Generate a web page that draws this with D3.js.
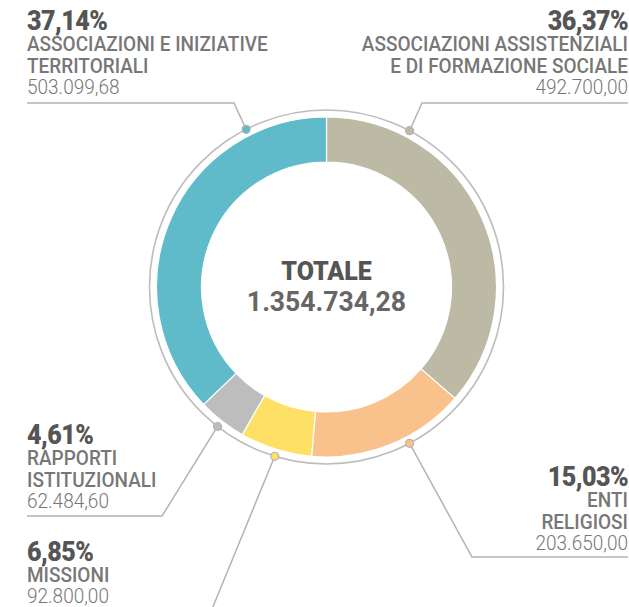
<!DOCTYPE html>
<html>
<head>
<meta charset="utf-8">
<script src="https://cdn.jsdelivr.net/npm/d3@7"></script>
<style>
  body { margin: 0; background: #fff; }
  svg text { font-family: Roboto, "Liberation Sans", sans-serif; }
</style>
</head>
<body>
<div id="chart"></div>
<script>
// data
var categories = ["ASSOCIAZIONI ASSISTENZIALI|E DI FORMAZIONE SOCIALE", "ENTI|RELIGIOSI", "MISSIONI", "RAPPORTI|ISTITUZIONALI", "ASSOCIAZIONI E INIZIATIVE|TERRITORIALI"];
var values = [492700.00, 203650.00, 92800.00, 62484.60, 503099.68];
var percentLabels = ["36,37%", "15,03%", "6,85%", "4,61%", "37,14%"];
var valueLabels = ["492.700,00", "203.650,00", "92.800,00", "62.484,60", "503.099,68"];
var totalLabel = "1.354.734,28";
var colors = ["#bcbaa5", "#f9c18b", "#ffe066", "#bdbdbd", "#5fbbc9"];

// where each label sits (layout only)
var anchorAngle = [28, 152, 197, 218, 333];           // degrees, clockwise from top
var labelPos = [
  {x: 628, y: 30, align: "end", elbow: [422, 103], rule: 628},
  {x: 628, y: 486, align: "end", elbow: [472, 557], rule: 628},
  {x: 27, y: 561, align: "start", elbow: [210, 614], rule: 27},
  {x: 27, y: 444, align: "start", elbow: [162, 516], rule: 27},
  {x: 27, y: 30, align: "start", elbow: [234, 103], rule: 27}
];

var width = 629, height = 607;
var cx = 326.5, cy = 287;
var rOuter = 170, rInner = 125, rRing = 177;

var svg = d3.select("#chart")
  .append("svg")
    .attr("width", width)
    .attr("height", height);

var g = svg.append("g")
    .attr("transform", "translate(" + cx + "," + cy + ")");

var pie = d3.pie().sort(null).value(function(d) { return d; });
var arc = d3.arc().innerRadius(rInner).outerRadius(rOuter);

g.selectAll("path.slice")
  .data(pie(values))
  .enter()
  .append("path")
    .attr("class", "slice")
    .attr("d", arc)
    .attr("fill", function(d, i) { return colors[i]; })
    .attr("stroke", "#fff")
    .attr("stroke-width", 1.2);

// outer thin ring
g.append("circle")
  .attr("r", rRing)
  .attr("fill", "none")
  .attr("stroke", "#bdbdbd")
  .attr("stroke-width", 1.6);

// leader lines
function anchorPoint(i) {
  var a = anchorAngle[i] * Math.PI / 180;
  return [cx + rRing * Math.sin(a), cy - rRing * Math.cos(a)];
}

var line = d3.line();
svg.selectAll("path.leader")
  .data(labelPos)
  .enter()
  .append("path")
    .attr("class", "leader")
    .attr("d", function(d, i) {
      var p = anchorPoint(i);
      return line([p, d.elbow, [d.rule, d.elbow[1]]]);
    })
    .attr("fill", "none")
    .attr("stroke", "#b3b3b3")
    .attr("stroke-width", 1.5);

svg.selectAll("circle.dot")
  .data(values)
  .enter()
  .append("circle")
    .attr("class", "dot")
    .attr("cx", function(d, i) { return anchorPoint(i)[0]; })
    .attr("cy", function(d, i) { return anchorPoint(i)[1]; })
    .attr("r", 4)
    .attr("fill", function(d, i) { return colors[i]; })
    .attr("stroke", "#b3b3b3")
    .attr("stroke-width", 1.2);

// condensed text: draw a bit taller and squeeze it sideways
function squeezed(sel, x, y, size, sx) {
  return sel.append("text")
    .attr("transform", "translate(" + x + "," + y + ") scale(" + sx + ",1)")
    .attr("font-size", size);
}

var labels = svg.selectAll("g.label")
  .data(labelPos)
  .enter()
  .append("g")
    .attr("class", "label")
    .attr("text-anchor", function(d) { return d.align; });

labels.each(function(d, i) {
  var el = d3.select(this);
  var lines = categories[i].split("|");
  squeezed(el, d.x, d.y, 27, 0.93)
    .attr("font-weight", 900)
    .attr("letter-spacing", -0.6)
    .attr("fill", "#555")
    .text(percentLabels[i]);
  lines.forEach(function(t, j) {
    squeezed(el, d.x, d.y + 21 + j * 22, 20, 0.95)
      .attr("font-weight", 500)
      .attr("fill", "#777")
      .text(t);
  });
  squeezed(el, d.x, d.y + 21 + lines.length * 22 - 1, 20, 0.95)
    .attr("font-weight", 300)
    .attr("fill", "#777")
    .text(valueLabels[i]);
});

// total in the middle
squeezed(g, 0, -7, 26, 0.96)
  .attr("text-anchor", "middle")
  .attr("font-weight", 900)
  .attr("fill", "#555")
  .text("TOTALE");

squeezed(g, 0, 24, 28, 0.95)
  .attr("text-anchor", "middle")
  .attr("font-weight", "bold")
  .attr("fill", "#666")
  .text(totalLabel);
</script>
</body>
</html>
